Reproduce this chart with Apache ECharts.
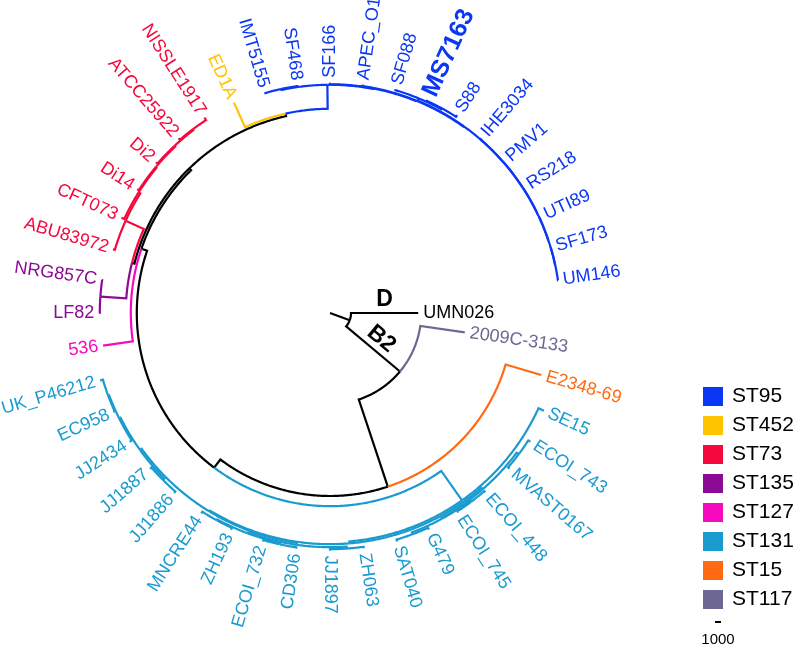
<!DOCTYPE html>
<html>
<head>
<meta charset="utf-8">
<script src="https://cdn.jsdelivr.net/npm/echarts@6.0.0/dist/echarts.min.js"></script>
<style>html,body{margin:0;padding:0;background:#fff}#chart{width:800px;height:659px}</style>
</head>
<body>
<div id="chart"></div>
<script>
// ---- leaves in circular order (clockwise from UMN026) ----
const leafNames = ['UMN026','2009C-3133','E2348-69','SE15','ECOI_743','MVAST0167','ECOI_448','ECOI_745','G479','SAT040','ZH063','JJ1897','CD306','ECOI_732','ZH193','MNCRE44','JJ1886','JJ1887','JJ2434','EC958','UK_P46212','536','LF82','NRG857C','ABU83972','CFT073','Di14','Di2','ATCC25922','NISSLE1917','ED1A','IMT5155','SF468','SF166','APEC_O1','SF088','MS7163','S88','IHE3034','PMV1','RS218','UTI89','SF173','UM146'];
const leafST = ['D','ST117','ST15',
  'ST131','ST131','ST131','ST131','ST131','ST131','ST131','ST131','ST131','ST131','ST131','ST131','ST131','ST131','ST131','ST131','ST131','ST131',
  'ST127','ST135','ST135','ST73','ST73','ST73','ST73','ST73','ST73','ST452',
  'ST95','ST95','ST95','ST95','ST95','ST95','ST95','ST95','ST95','ST95','ST95','ST95','ST95'];
const boldLeaves = ['MS7163'];
// ---- sequence types (legend) ----
const stNames = ['ST95','ST452','ST73','ST135','ST127','ST131','ST15','ST117'];
const stColors = ['#0a37f5','#ffc400','#f5093c','#8c0a96','#f50abe','#1a9bd0','#ff6a12','#6c6894'];
// ---- tree: [child, parent, branch length] ----
const edges = [
  ['N0','root',3500],
  ['UMN026','N0',11200],['B2','N0',11700],
  ['2009C-3133','B2',7500],['X','B2',15300],
  ['E2348-69','X',6200],['Y','X',1700],
  ['B','Y',6000],['W','Y',1000],
  ['SE15','B',1000],['R','B',330],
  ['R1','R',330],['R2','R',170],
  ['n743','R1',420],['R1b','R1',170],
  ['ECOI_743','n743',420],['MVAST0167','n743',330],
  ['n448','R1b',250],['nG','R1b',330],
  ['ECOI_448','n448',250],['ECOI_745','n448',250],
  ['G479','nG',330],['SAT040','nG',330],
  ['c1','R2',330],['c2','R2',330],
  ['c1a','c1',330],['c1b','c1',170],
  ['ZH063','c1a',250],['JJ1897','c1a',250],
  ['c1b1','c1b',250],['c1b2','c1b',170],
  ['CD306','c1b1',250],['ECOI_732','c1b1',250],
  ['ZH193','c1b2',330],['MNCRE44','c1b2',330],
  ['c2a','c2',330],['c2b','c2',250],
  ['JJ1886','c2a',330],['JJ1887','c2a',330],
  ['JJ2434','c2b',420],['c2c','c2b',170],
  ['EC958','c2c',250],['UK_P46212','c2c',500],
  ['536','W',5000],['K','W',420],
  ['V','K',420],['T','K',420],
  ['ST135n','V',4330],['N73','V',3330],
  ['LF82','ST135n',80],['NRG857C','ST135n',80],
  ['ABU83972','N73',330],['N73b','N73',330],
  ['CFT073','N73b',500],['N73c','N73b',170],
  ['Di14','N73c',330],['N73d','N73c',170],
  ['Di2','N73d',330],['N73e','N73d',170],
  ['ATCC25922','N73e',330],['NISSLE1917','N73e',500],
  ['ED1A','T',4500],['ST95n','T',4000],
  ['P95a','ST95n',170],['P95b','ST95n',80],
  ['IMT5155','P95a',170],['SF468','P95a',170],
  ['SF166','P95b',250],['q1','P95b',80],
  ['APEC_O1','q1',250],['q2','q1',80],
  ['sub','q2',420],['q3','q2',20],
  ['SF088','sub',170],['sub2','sub',170],
  ['MS7163','sub2',170],['S88','sub2',330],
  ['IHE3034','q3',250],['q4','q3',20],
  ['PMV1','q4',170],['q5','q4',20],
  ['RS218','q5',170],['q6','q5',20],
  ['UTI89','q6',170],['q7','q6',20],
  ['SF173','q7',80],['UM146','q7',20]
];
const branchLabelText = ['D','B2'];
const branchLabelNode = ['UMN026','B2'];
const scaleBarValue = 1000;

// ---- build tree geometry in data space (depth, angle) ----
const children = {}, blen = {};
edges.forEach(([c,p,l]) => { (children[p] = children[p] || []).push(c); blen[c] = l; });
const depth = {root: 0};
(function setDepth(n){ (children[n]||[]).forEach(c => { depth[c] = depth[n] + blen[c]; setDepth(c); }); })('root');
const angle = {}, clade = {};
leafNames.forEach((n,i) => { angle[n] = i * 360 / leafNames.length; clade[n] = leafST[i]; });
(function setAngle(n){
  if (n in angle) return;
  const cs = children[n]; cs.forEach(setAngle);
  const a = cs.map(c => angle[c]);
  angle[n] = (Math.min(...a) + Math.max(...a)) / 2;
  const cl = [...new Set(cs.map(c => clade[c]))];
  clade[n] = cl.length === 1 ? cl[0] : 'none';
})('root');
const parentOf = {}; edges.forEach(([c,p]) => parentOf[c] = p);

function colorOf(st){ const i = stNames.indexOf(st); return i >= 0 ? stColors[i] : '#000000'; }
const FONT = '"Liberation Sans", Arial, Helvetica, sans-serif';

function renderEdge(params, api){
  const pr = api.value(0), pa = api.value(1), cr = api.value(2), ca = api.value(3);
  const steps = Math.max(1, Math.ceil(Math.abs(ca - pa) / 0.4));
  const pts = [];
  for (let k = 0; k <= steps; k++) pts.push(api.coord([pr, pa + (ca - pa) * k / steps]));
  pts.push(api.coord([cr, ca]));
  return {type: 'polyline', shape: {points: pts},
    style: {stroke: api.visual('color'), lineWidth: 2.2, fill: null, lineJoin: 'miter', lineCap: 'butt'}};
}

function edgeData(filterFn){
  return edges.filter(([c]) => filterFn(clade[c])).map(([c,p]) => [depth[p], angle[p], depth[c], angle[c]]);
}

const series = [];
series.push({name: 'backbone', type: 'custom', coordinateSystem: 'polar', renderItem: renderEdge,
  itemStyle: {color: '#000000'}, data: edgeData(cl => stNames.indexOf(cl) < 0), clip: false, silent: true});
stNames.forEach((st, i) => {
  series.push({name: st, type: 'custom', coordinateSystem: 'polar', renderItem: renderEdge,
    itemStyle: {color: stColors[i]}, data: edgeData(cl => cl === st), clip: false, silent: true});
});

// leaf labels
series.push({name: 'labels', type: 'custom', coordinateSystem: 'polar', clip: false, silent: true,
  data: leafNames.map((n,i) => [depth[n], angle[n], i]),
  renderItem: function(params, api){
    const r = api.value(0), a = api.value(1), i = api.value(2);
    const p = api.coord([r, a]);
    const cx = params.coordSys.cx, cy = params.coordSys.cy;
    const dx = p[0]-cx, dy = p[1]-cy, len = Math.hypot(dx,dy) || 1;
    const off = 5;
    const left = a > 90 && a < 270;
    const rot = -(left ? a - 180 : a) * Math.PI / 180;
    const name = leafNames[i];
    const bold = boldLeaves.indexOf(name) >= 0;
    return {type: 'text', x: p[0] + dx/len*off, y: p[1] + dy/len*off, rotation: rot,
      style: {text: name, fill: colorOf(leafST[i]), fontSize: bold ? 25 : 18, fontWeight: bold ? 'bold' : 'normal',
        fontFamily: FONT, align: left ? 'right' : 'left', verticalAlign: 'middle',
        textAlign: left ? 'right' : 'left', textVerticalAlign: 'middle'}};
  }});

// branch labels (D, B2)
series.push({name: 'branchLabels', type: 'custom', coordinateSystem: 'polar', clip: false, silent: true,
  data: branchLabelNode.map((n,i) => [(depth[n] + depth[parentOf[n]]) / 2, angle[n], i]),
  renderItem: function(params, api){
    const r = api.value(0), a = api.value(1), i = api.value(2);
    const p = api.coord([r, a]);
    const t = a * Math.PI / 180;
    const off = 13;
    return {type: 'text', x: p[0] + Math.sin(t)*off, y: p[1] - Math.cos(t)*off, rotation: -t,
      style: {text: branchLabelText[i], fill: '#000', fontSize: 23, fontWeight: 'bold', fontFamily: FONT,
        align: 'center', verticalAlign: 'middle', textAlign: 'center', textVerticalAlign: 'middle'}};
  }});

// scale bar
series.push({name: 'scale', type: 'custom', coordinateSystem: 'polar', clip: false, silent: true,
  data: [[scaleBarValue, 0]],
  renderItem: function(params, api){
    const p0 = api.coord([0, 0]), p1 = api.coord([api.value(0), 0]);
    const w = p1[0] - p0[0];
    const xc = 718, y = 622;
    return {type: 'group', children: [
      {type: 'line', shape: {x1: xc - w/2, y1: y, x2: xc + w/2, y2: y}, style: {stroke: '#000', lineWidth: 2}},
      {type: 'text', x: xc, y: 640, style: {text: String(api.value(0)), fill: '#000', fontSize: 15, fontFamily: FONT,
        align: 'center', verticalAlign: 'middle', textAlign: 'center', textVerticalAlign: 'middle'}}
    ]};
  }});

const chart = echarts.init(document.getElementById('chart'), null, {renderer: 'canvas'});
chart.setOption({
  animation: false,
  backgroundColor: '#ffffff',
  polar: {center: [330, 313], radius: 252},
  radiusAxis: {type: 'value', min: 0, max: 42000, show: false, axisLine: {show: false}, axisTick: {show: false}, axisLabel: {show: false}, splitLine: {show: false}},
  angleAxis: {type: 'value', min: 0, max: 360, startAngle: 0, clockwise: true, show: false, axisLine: {show: false}, axisTick: {show: false}, axisLabel: {show: false}, splitLine: {show: false}},
  legend: {
    data: stNames, orient: 'vertical', left: 703, top: 386, padding: 0,
    icon: 'rect', itemWidth: 20, itemHeight: 19, itemGap: 8, selectedMode: false,
    textStyle: {fontSize: 21, color: '#000', fontFamily: FONT, padding: [0, 0, 0, 4]}
  },
  series: series
});
</script>
</body>
</html>
